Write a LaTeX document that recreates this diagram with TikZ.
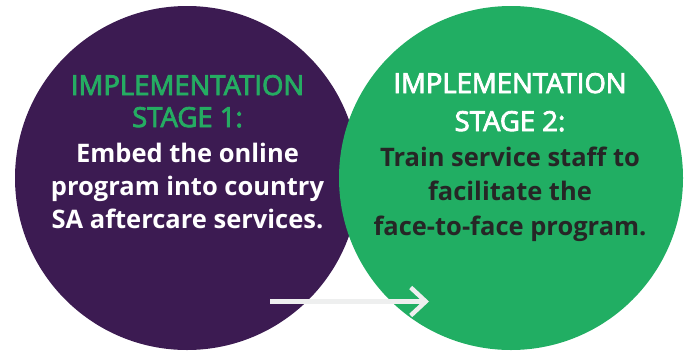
\documentclass[tikz,border=0pt]{standalone}
\usepackage{fontspec}
\setmainfont{Open Sans}
\newfontfamily\ttlfont[FakeBold=3]{Open Sans}
\usetikzlibrary{arrows.meta}
\definecolor{purp}{HTML}{3C1B52}
\definecolor{grn}{HTML}{21AE63}
\definecolor{grntxt}{HTML}{25AC62}
\definecolor{darktxt}{HTML}{262626}
\definecolor{arrowgray}{HTML}{EEEFEF}
\tikzset{
  disc/.style={circle, inner sep=0pt, minimum size=344pt},
  ttl/.style={anchor=base, inner sep=0pt, font=\ttlfont\fontsize{27.5}{32}\selectfont},
  bdy/.style={anchor=base, inner sep=0pt, font=\bfseries\fontsize{25.5}{32}\selectfont},
}
\begin{document}
\begin{tikzpicture}[x=1pt,y=-1pt]
\useasboundingbox (0,0) rectangle (690,351);
\node[disc, fill=purp] (c1) at (187,178) {};
\node[disc, fill=grn] (c2) at (511,178) {};
% left text
\node[ttl, text=grntxt] (l1) at (187.5,95) {IMPLEMENTATION};
\node[ttl, text=grntxt] (l2) at (187.5,127) {STAGE 1:};
\node[bdy, text=white] (l3) at (187.5,162) {Embed the online};
\node[bdy, text=white] (l4) at (187.5,195) {program into country};
\node[bdy, text=white] (l5) at (187.5,228) {SA aftercare services.};
% right text
\node[ttl, text=white] (r1) at (510,93) {IMPLEMENTATION};
\node[ttl, text=white] (r2) at (510,131) {STAGE 2:};
\node[bdy, text=darktxt] (r3) at (510,166) {Train service staff to};
\node[bdy, text=darktxt] (r4) at (510,200) {facilitate the};
\node[bdy, text=darktxt] (r5) at (510,235) {face-to-face program.};
% arrow
\coordinate (a0) at (270,301.5);
\coordinate (a1) at (429,301.5);
\draw[arrowgray, line width=4.5pt, -{Straight Barb[length=15pt, width=28pt, line cap=butt]}] (a0) -- (a1);
\end{tikzpicture}
\end{document}
